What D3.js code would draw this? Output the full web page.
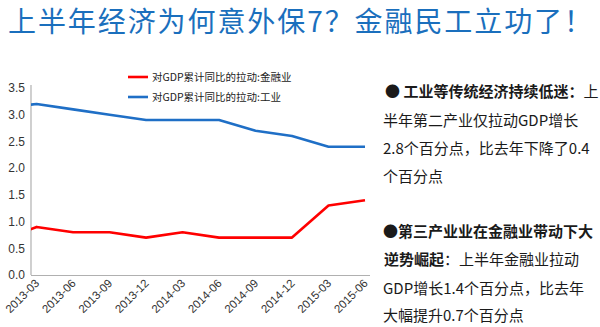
<!DOCTYPE html>
<html><head><meta charset="utf-8">
<script src="https://cdn.jsdelivr.net/npm/d3@7/dist/d3.min.js"></script>
<style>
html,body{margin:0;padding:0;background:#fff;}
svg{display:block;}
</style></head>
<body>
<svg id="chart" width="600" height="327"></svg>
<script>
// ---- data ----
const categories = ["2012-12","2013-03","2013-06","2013-09","2013-12","2014-03","2014-06","2014-09","2014-12","2015-03","2015-06"];
const financeValues = [0.64,0.9,0.8,0.8,0.7,0.8,0.7,0.7,0.7,1.3,1.4];
const industryValues = [3.13,3.2,3.1,3.0,2.9,2.9,2.9,2.7,2.6,2.4,2.4];
const yTicks = [0,0.5,1.0,1.5,2.0,2.5,3.0,3.5];
const seriesNames = ["对GDP累计同比的拉动:金融业","对GDP累计同比的拉动:工业"];
const titleText = "上半年经济为何意外保7？金融民工立功了！";

const svg = d3.select("#chart");
const CJK = "'Noto Sans CJK SC','Noto Sans',sans-serif";

// title
svg.append("text").attr("x",8).attr("y",32)
  .attr("font-family",CJK).attr("font-size",28).attr("fill","#1a6fbd")
  .attr("textLength",584).attr("lengthAdjust","spacing")
  .text(titleText);

// scales
const plot = {left:31, right:370, top:88, bottom:275};
const visibleCats = categories.slice(1);
const step = (365-36.6)/(visibleCats.length-1);
const x = d3.scalePoint().domain(categories).range([36.6-step, 365]);
const y = d3.scaleLinear().domain([0,3.5]).range([plot.bottom, plot.top]);

// clip
svg.append("defs").append("clipPath").attr("id","clip")
  .append("rect").attr("x",plot.left).attr("y",60).attr("width",plot.right-plot.left).attr("height",plot.bottom-60+2);

// y axis labels
const yAxis = d3.axisLeft(y).tickValues(yTicks).tickFormat(d3.format(".1f")).tickSize(0).tickPadding(6);
const gy = svg.append("g").attr("transform",`translate(${plot.left},0)`).call(yAxis);
gy.select(".domain").remove();
gy.selectAll("text").attr("font-family","'Liberation Sans',Arial,sans-serif").attr("font-size",12).attr("fill","#333");

// x axis
const xAxis = d3.axisBottom(x).tickValues(visibleCats).tickSize(0).tickPadding(0);
const gx = svg.append("g").attr("transform",`translate(0,${plot.bottom})`).call(xAxis);
gx.select(".domain").remove();
gx.selectAll("text")
  .attr("font-family","'Liberation Sans',Arial,sans-serif").attr("font-size",11.5).attr("fill","#333")
  .attr("text-anchor","end").attr("dy",0)
  .attr("transform","translate(3,9) rotate(-45)");

// axis lines
svg.append("line").attr("x1",plot.left).attr("x2",plot.left).attr("y1",plot.top-3).attr("y2",plot.bottom)
  .attr("stroke","#b0b0b0").attr("stroke-width",1.2);
svg.append("line").attr("x1",plot.left).attr("x2",plot.right).attr("y1",plot.bottom+0.5).attr("y2",plot.bottom+0.5)
  .attr("stroke","#b0b0b0").attr("stroke-width",1.2);

// lines
const line = d3.line().x((d,i)=>x(categories[i])).y(d=>y(d));
const g = svg.append("g").attr("clip-path","url(#clip)");
g.append("path").datum(industryValues).attr("d",line).attr("fill","none").attr("stroke","#1f6fc6").attr("stroke-width",2.6).attr("stroke-linejoin","round");
g.append("path").datum(financeValues).attr("d",line).attr("fill","none").attr("stroke","#ff0000").attr("stroke-width",2.6).attr("stroke-linejoin","round");

// legend
const legColors = ["#ff0000","#1f6fc6"];
seriesNames.forEach((n,i)=>{
  const ly = 77 + i*20;
  svg.append("line").attr("x1",128).attr("x2",148).attr("y1",ly).attr("y2",ly).attr("stroke",legColors[i]).attr("stroke-width",2.6);
  svg.append("text").attr("x",152).attr("y",ly+4).attr("font-family",CJK).attr("font-size",10.5).attr("fill","#222").text(n);
});

// right text
const textLines = [
  {y:97, x:385, parts:[["● 工业等传统经济持续低迷：",700],["上",400]]},
  {y:126, x:383, parts:[["半年第二产业仅拉动GDP增长",400]]},
  {y:154, x:383, parts:[["2.8个百分点，比去年下降了0.4",400]]},
  {y:182, x:383, parts:[["个百分点",400]]},
  {y:237, x:383, parts:[["●第三产业业在金融业带动下大",700]]},
  {y:265, x:384, parts:[["逆势崛起",700],["：上半年金融业拉动",400]]},
  {y:294, x:383, parts:[["GDP增长1.4个百分点，比去年",400]]},
  {y:321, x:383, parts:[["大幅提升0.7个百分点",400]]}
];
textLines.forEach(l=>{
  const t = svg.append("text").attr("x",l.x).attr("y",l.y).attr("font-family",CJK).attr("font-size",15).attr("fill","#1a1a1a");
  l.parts.forEach(p=>t.append("tspan").attr("font-weight",p[1]).text(p[0]));
});
</script>
</body></html>
